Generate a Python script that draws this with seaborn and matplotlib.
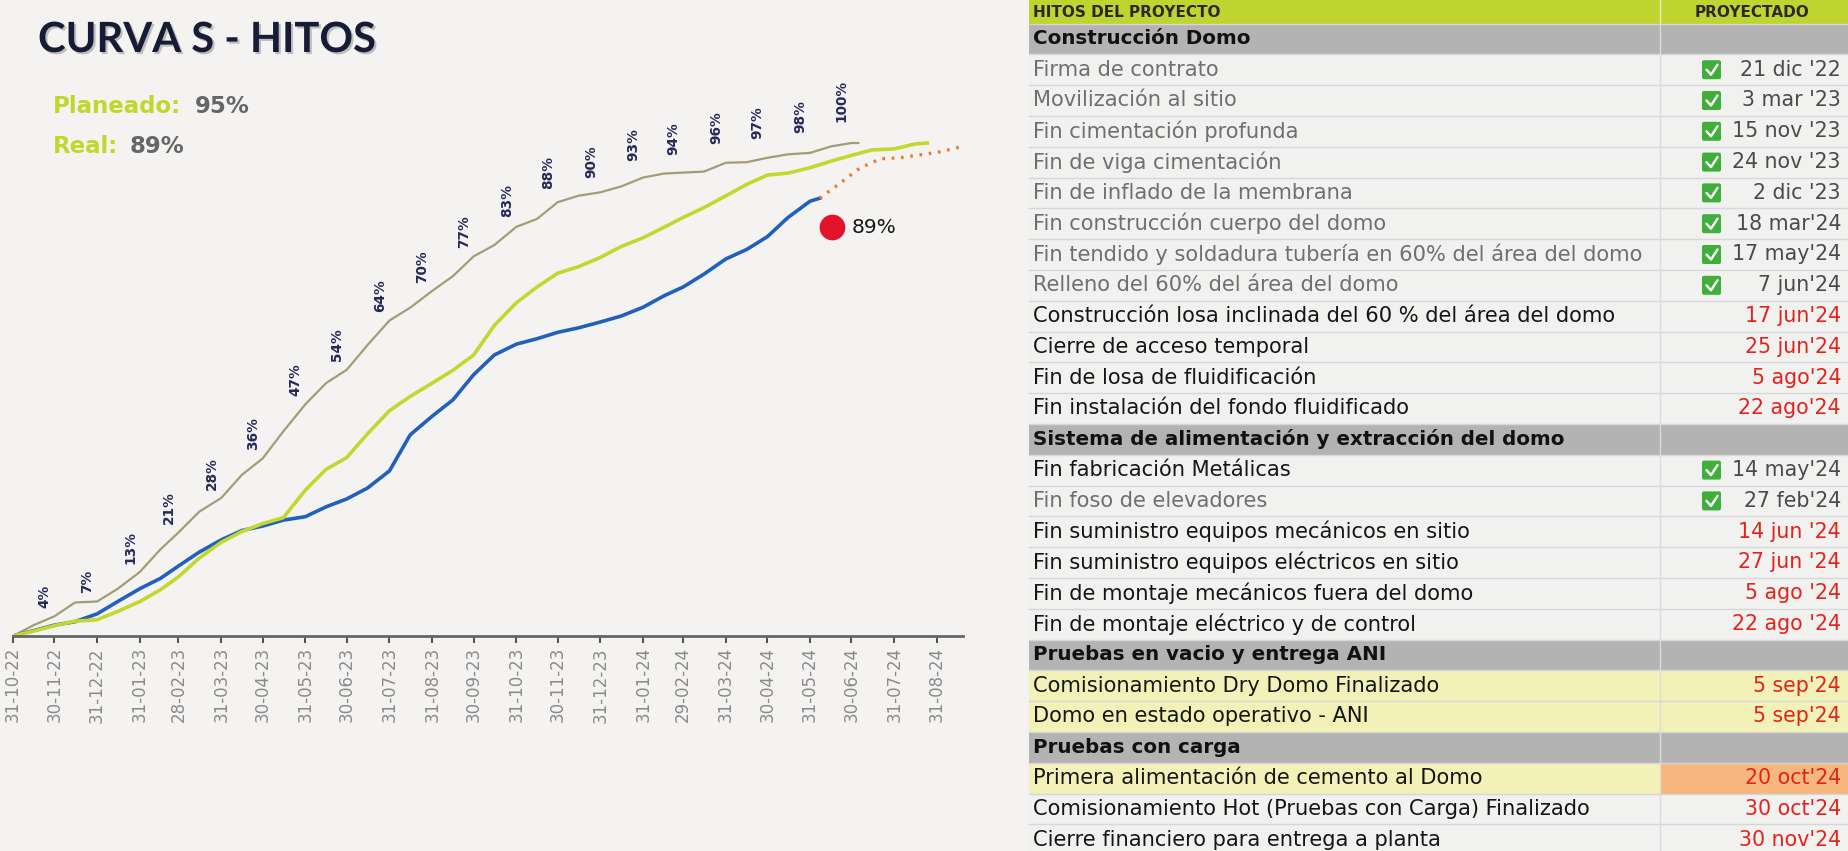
import pandas as pd
import matplotlib
matplotlib.use('Agg')
import matplotlib.pyplot as plt
import matplotlib.dates as mdates
import matplotlib.transforms as mtransforms
import matplotlib.patheffects as pe
from matplotlib.patches import Rectangle, FancyBboxPatch
import seaborn as sns

# ---------------- datos curva S ----------------
inicio = '2022-10-31'
# linea base: cierre de mes (oct-22 .. jun-24) = etiquetas, y quincenas (15 nov-22 .. 15 jun-24)
base_cierre = [0, 4, 7, 13, 21, 28, 36, 47, 54, 64, 70, 77, 83, 88, 90, 93, 94, 96, 97, 98, 100]
base_quincena = [2.2, 6.8, 9.6, 17.6, 25.2, 32.7, 41.5, 51.3, 59, 66.6, 73, 79.3, 84.6, 89.3,
                 91.2, 93.8, 94.2, 96.1, 97.7, 99.3]
base_fin = ('2024-07-05', 100)

# planeado (verde): cierre oct-22 .. jul-24, quincenas 15 nov-22 .. 15 ago-24
plan_cierre = [0, 2.1, 3.3, 7.0, 12.0, 19.0, 22.8, 29.6, 36.2, 45.7, 51.3, 57.0, 67.6, 73.6,
               76.8, 80.8, 84.9, 89.3, 93.5, 95.0, 97.5, 98.8]
plan_quincena = [1.0, 3.0, 5.0, 9.4, 15.8, 21.2, 24.0, 33.8, 41, 48.6, 53.9, 63, 70.8, 74.9,
                 79, 82.9, 86.9, 91.6, 93.9, 96.3, 98.6, 99.8]
plan_fin = ('2024-08-24', 100)

# real (azul): cierre oct-22 .. may-24, quincenas 15 nov-22 .. 15 may-24
real_cierre = [0, 2.2, 4.5, 9.6, 14.2, 19.5, 22.3, 24.2, 27.8, 33.5, 44.6, 53.0, 59.2, 61.6,
               63.7, 66.7, 70.8, 76.5, 81.0, 88.2]
real_quincena = [1.1, 2.9, 7.0, 11.7, 17.0, 21.4, 23.5, 26.2, 30.0, 40.8, 47.9, 57.0, 60.3,
                 62.5, 64.9, 69.0, 73.4, 78.4, 84.9]
real_fin = ('2024-06-07', 88.8)

# proyeccion (punteado naranja)
proy_fechas = ['2024-06-07', '2024-06-22', '2024-07-06', '2024-07-21', '2024-08-04',
               '2024-08-19', '2024-09-02', '2024-09-17']
proy_valores = [88.8, 91.9, 94.9, 96.8, 97.0, 97.6, 98.2, 99.2]

avance_planeado = 95
avance_real = 89

# ---------------- datos tabla de hitos ----------------
filas = ['Construcción Domo',
         'Firma de contrato',
         'Movilización al sitio',
         'Fin cimentación profunda',
         'Fin de viga cimentación',
         'Fin de inflado de la membrana',
         'Fin construcción cuerpo del domo',
         'Fin tendido y soldadura tubería en 60% del área del domo',
         'Relleno del 60% del área del domo',
         'Construcción losa inclinada del 60 % del área del domo',
         'Cierre de acceso temporal',
         'Fin de losa de fluidificación',
         'Fin instalación del fondo fluidificado',
         'Sistema de alimentación y extracción del domo',
         'Fin fabricación Metálicas',
         'Fin foso de elevadores',
         'Fin suministro equipos mecánicos en sitio',
         'Fin suministro equipos eléctricos en sitio',
         'Fin de montaje mecánicos fuera del domo',
         'Fin de montaje eléctrico y de control',
         'Pruebas en vacio y entrega ANI',
         'Comisionamiento Dry Domo Finalizado',
         'Domo en estado operativo - ANI',
         'Pruebas con carga',
         'Primera alimentación de cemento al Domo',
         'Comisionamiento Hot (Pruebas con Carga) Finalizado',
         'Cierre financiero para entrega a planta']
fechas_hito = ['', "21 dic '22", "3 mar '23", "15 nov '23", "24 nov '23", "2 dic '23",
               "18 mar'24", "17 may'24", "7 jun'24", "17 jun'24", "25 jun'24", "5 ago'24",
               "22 ago'24", '', "14 may'24", "27 feb'24", "14 jun '24", "27 jun '24",
               "5 ago '24", "22 ago '24", '', "5 sep'24", "5 sep'24", '', "20 oct'24",
               "30 oct'24", "30 nov'24"]
tipo = ['seccion', 'ok', 'ok', 'ok', 'ok', 'ok', 'ok', 'ok', 'ok', 'pend', 'pend', 'pend', 'pend',
        'seccion', 'ok_n', 'ok', 'pend', 'pend', 'pend', 'pend',
        'seccion', 'pend_am', 'pend_am', 'seccion', 'pend_nar', 'pend', 'pend']

# ---------------- series ----------------
cierres = pd.date_range(inicio, periods=23, freq=pd.offsets.MonthEnd())
quincenas = cierres[:-1] + pd.Timedelta(days=15)


def serie(v_cierre, v_quin, fin=None):
    f = list(cierres[:len(v_cierre)]) + list(quincenas[:len(v_quin)])
    v = list(v_cierre) + list(v_quin)
    if fin:
        f.append(pd.Timestamp(fin[0]))
        v.append(fin[1])
    return pd.DataFrame({'fecha': f, 'avance': v}).sort_values('fecha')


df_base = serie(base_cierre, base_quincena, base_fin)
df_plan = serie(plan_cierre, plan_quincena, plan_fin)
df_real = serie(real_cierre, real_quincena, real_fin)
df_proy = pd.DataFrame({'fecha': pd.to_datetime(proy_fechas), 'avance': proy_valores})

W, H = 1849, 851
bg = '#f4f3f1'
fig = plt.figure(figsize=(W / 100, H / 100), dpi=100, facecolor=bg)


def fx(px):
    return px / W


def fy(py):
    return 1 - py / H


# ---------------- tabla (fondo) ----------------
at = fig.add_axes([0, 0, 1, 1])
at.set_xlim(0, W)
at.set_ylim(H, 0)
at.axis('off')

X0, XM, X1 = 1029, 1660, 1849
HDR = 23.5
rh = 30.8

at.add_patch(Rectangle((X0, 0), X1 - X0, HDR, color='#bed530', lw=0))
at.plot([XM, XM], [0, HDR], color='#e8ecc0', lw=1)
at.text(X0 + 4, HDR / 2 + 1, 'HITOS DEL PROYECTO', fontsize=11, fontweight='bold',
        color='#2a2a2a', va='center', ha='left')
at.text(1752, HDR / 2 + 1, 'PROYECTADO', fontsize=11, fontweight='bold',
        color='#2a2a2a', va='center', ha='center')

for i, (nom, fch, t) in enumerate(zip(filas, fechas_hito, tipo)):
    y0 = HDR + i * rh
    yc = y0 + rh / 2
    if t == 'seccion':
        at.add_patch(Rectangle((X0, y0), X1 - X0, rh, color='#b3b3b3', lw=0))
        at.text(X0 + 4, yc, nom, fontsize=14.3, fontweight='bold', color='#111111',
                va='center', ha='left')
    else:
        c1 = '#f1f1b8' if t in ('pend_am', 'pend_nar') else '#f1f1f0'
        c2 = '#f6b77e' if t == 'pend_nar' else c1
        at.add_patch(Rectangle((X0, y0), XM - X0, rh, color=c1, lw=0))
        at.add_patch(Rectangle((XM, y0), X1 - XM, rh, color=c2, lw=0))
        col_nom = '#6f6f6f' if t == 'ok' else '#151515'
        at.text(X0 + 4, yc, nom, fontsize=15.1, color=col_nom, va='center', ha='left')
        col_f = '#4a4a4a' if t.startswith('ok') else '#e3231b'
        at.text(X1 - 8, yc, fch, fontsize=14.8, color=col_f, va='center', ha='right')
        if t.startswith('ok'):
            at.add_patch(FancyBboxPatch((1702, yc - 9.5), 19, 19,
                                        boxstyle='round,pad=0,rounding_size=2',
                                        color='#3fae3a', lw=0))
            at.plot([1706.5, 1711, 1717.5], [yc, yc + 5, yc - 5], color='white', lw=1.7,
                    solid_capstyle='round')
    at.plot([X0, X1], [y0, y0], color='#d7d7d7', lw=1)
    at.plot([XM, XM], [y0, y0 + rh], color='#dcdcdc', lw=1)

# ---------------- curva S ----------------
x_ini = pd.Timestamp('2022-10-31')
x_fin = pd.Timestamp('2024-09-19')
px_dia = 924 / 670
ax_l = 13
ax_r = ax_l + (x_fin - x_ini).days * px_dia
ax_b, ax_t = 636, 636 - 110 * 4.93
ax = fig.add_axes([fx(ax_l), fy(ax_b), (ax_r - ax_l) / W, (ax_b - ax_t) / H])
ax.set_facecolor('none')

sns.lineplot(data=df_base, x='fecha', y='avance', ax=ax, color='#a39d74', linewidth=1.6)
sns.lineplot(data=df_real, x='fecha', y='avance', ax=ax, color='#2160bd', linewidth=2.6)
sns.lineplot(data=df_plan, x='fecha', y='avance', ax=ax, color='#c3d82e', linewidth=2.6)
sns.lineplot(data=df_proy, x='fecha', y='avance', ax=ax, color='#f07a28', linewidth=2.4,
             linestyle=(0, (0.8, 2.0)))

for f, v in zip(cierres[1:len(base_cierre)], base_cierre[1:]):
    dy = 6 if v < 80 else 6 + (v - 80) * 0.45
    ax.annotate(f'{v}%', (f, v), xytext=(-7, dy), textcoords='offset points', rotation=90,
                ha='center', va='bottom', fontsize=9.8, fontweight='bold', color='#24295a')

# indicador de estado junto al ultimo dato real
f_real = pd.Timestamp(real_fin[0])
tr = mtransforms.offset_copy(ax.transData, fig=fig, x=12, y=-29, units='dots')
ax.plot([f_real], [real_fin[1]], marker='o', ms=17.5, color='#e3132c', transform=tr,
        clip_on=False)
ax.annotate(f'{avance_real}%', (f_real, real_fin[1]), xytext=(32, -29),
            textcoords='offset pixels', ha='left', va='center', fontsize=14.5,
            color='#161616')

ax.set_xlim(x_ini, x_fin)
ax.set_ylim(0, 110)
ax.set_xticks(cierres)
ax.xaxis.set_major_formatter(mdates.DateFormatter('%d-%m-%y'))
ax.tick_params(axis='x', rotation=90, labelsize=12, labelcolor='#8a8a8a', color='#555555',
               length=5, width=1.5, pad=3)
ax.set_yticks([])
ax.set_xlabel('')
ax.set_ylabel('')
for s in ['left', 'top', 'right']:
    ax.spines[s].set_visible(False)
ax.spines['bottom'].set_color('#666666')
ax.spines['bottom'].set_linewidth(2)

# ---------------- titulos ----------------
fig.text(fx(38), fy(52), 'CURVA S - HITOS', fontsize=30, fontweight='bold', family='Lato',
         color='#161b36', va='baseline',
         path_effects=[pe.withSimplePatchShadow(offset=(1.5, -1.5), shadow_rgbFace='#888888',
                                                alpha=0.5)])
fig.text(fx(53), fy(113), 'Planeado:', fontsize=16.5, fontweight='bold', color='#c2d62d',
         va='baseline')
fig.text(fx(195), fy(113), f'{avance_planeado}%', fontsize=16.5, fontweight='bold',
         color='#666666', va='baseline')
fig.text(fx(53), fy(153), 'Real:', fontsize=16.5, fontweight='bold', color='#c2d62d',
         va='baseline')
fig.text(fx(130), fy(153), f'{avance_real}%', fontsize=16.5, fontweight='bold',
         color='#666666', va='baseline')

fig.savefig('out.png', dpi=100, facecolor=bg)
